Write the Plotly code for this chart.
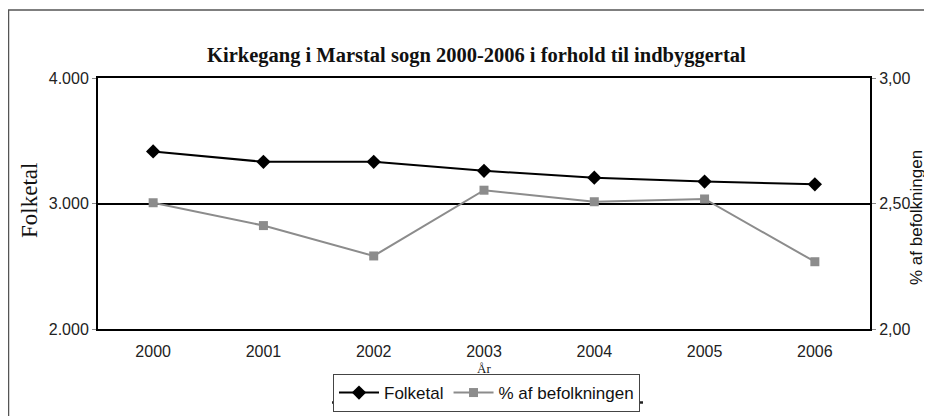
import plotly.graph_objects as go

years = ["2000", "2001", "2002", "2003", "2004", "2005", "2006"]
folketal = [3415, 3332, 3332, 3260, 3206, 3175, 3153]
pct = [2.503, 2.412, 2.291, 2.553, 2.507, 2.518, 2.268]

left_ticks = [2000, 3000, 4000]
right_ticks = [2.0, 2.5, 3.0]

title_text = "Kirkegang i Marstal sogn 2000-2006 i forhold til indbyggertal"

# page body has an 8px margin; work in reference pixel coordinates and shift
OFF = 8
W, H = 932 - OFF, 416 - OFF
L, R, T, B = 98 - OFF, 870 - OFF, 78 - OFF, 329 - OFF


def px(x):
    return (x - OFF - L) / (R - L)


def py(y):
    return (B - (y - OFF)) / (B - T)


fig = go.Figure()
fig.add_trace(go.Scatter(
    x=years, y=folketal, name="Folketal", mode="lines+markers",
    line=dict(color="black", width=2),
    marker=dict(symbol="diamond", size=11, color="black"),
    yaxis="y",
))
fig.add_trace(go.Scatter(
    x=years, y=pct, name="% af befolkningen", mode="lines+markers",
    line=dict(color="#8c8c8c", width=2),
    marker=dict(symbol="square", size=9, color="#8c8c8c"),
    yaxis="y2",
))

axis_font = dict(family="Liberation Sans, Arial", size=16, color="#222")

fig.update_layout(
    width=W, height=H,
    margin=dict(l=L, r=W - R, t=T, b=H - B, pad=0, autoexpand=False),
    paper_bgcolor="white", plot_bgcolor="white",
    separators=",.",
    showlegend=True,
    legend=dict(
        orientation="h", x=px(333), y=py(374), xanchor="left", yanchor="top",
        bordercolor="#444", borderwidth=1, bgcolor="white",
        font=dict(family="Liberation Sans, Arial", size=17, color="#111"),
        itemwidth=40, tracegroupgap=0,
    ),
    xaxis=dict(
        type="category", range=[-0.5, 6.5], showgrid=False,
        showline=True, linecolor="black", linewidth=2, mirror=True,
        ticks="", tickfont=axis_font, ticklabelstandoff=7,
    ),
    yaxis=dict(
        range=[2000, 4000], tickvals=left_ticks, tickformat=",",
        showgrid=True, gridcolor="black", gridwidth=1.5,
        showline=True, linecolor="black", linewidth=2,
        ticks="outside", ticklen=4, tickcolor="#888",
        tickfont=axis_font, zeroline=False,
    ),
    yaxis2=dict(
        range=[2.0, 3.0], tickvals=right_ticks, tickformat=".2f",
        overlaying="y", side="right", showgrid=False,
        showline=True, linecolor="black", linewidth=2,
        ticks="outside", ticklen=4, tickcolor="#888",
        tickfont=axis_font, zeroline=False,
    ),
    annotations=[
        dict(text="<b>" + title_text + "</b>", xref="paper", yref="paper",
             x=px(476), y=py(55), xanchor="center", yanchor="middle", showarrow=False,
             font=dict(family="Liberation Serif, Times New Roman", size=20.5, color="#111")),
        dict(text="Folketal", xref="paper", yref="paper", x=px(29), y=py(201),
             xanchor="center", yanchor="middle", showarrow=False, textangle=-90,
             font=dict(family="Liberation Serif, Times New Roman", size=23, color="#111")),
        dict(text="% af befolkningen", xref="paper", yref="paper", x=px(916), y=py(218),
             xanchor="center", yanchor="middle", showarrow=False, textangle=-90,
             font=dict(family="Liberation Sans, Arial", size=17, color="#111")),
        dict(text="År", xref="paper", yref="paper", x=px(484), y=py(368),
             xanchor="center", yanchor="middle", showarrow=False,
             font=dict(family="Liberation Serif, Times New Roman", size=13, color="#111")),
    ],
    shapes=[
        dict(type="path", xref="paper", yref="paper",
             path=f"M {px(8.5)} {py(430)} L {px(8.5)} {py(10)} L {px(945)} {py(10)}",
             line=dict(color="#555", width=1.5)),
        dict(type="line", xref="paper", yref="paper",
             x0=px(332), x1=px(643), y0=py(402.5), y1=py(402.5),
             line=dict(color="#222", width=2.5)),
    ],
)

fig.write_html("out.html")
